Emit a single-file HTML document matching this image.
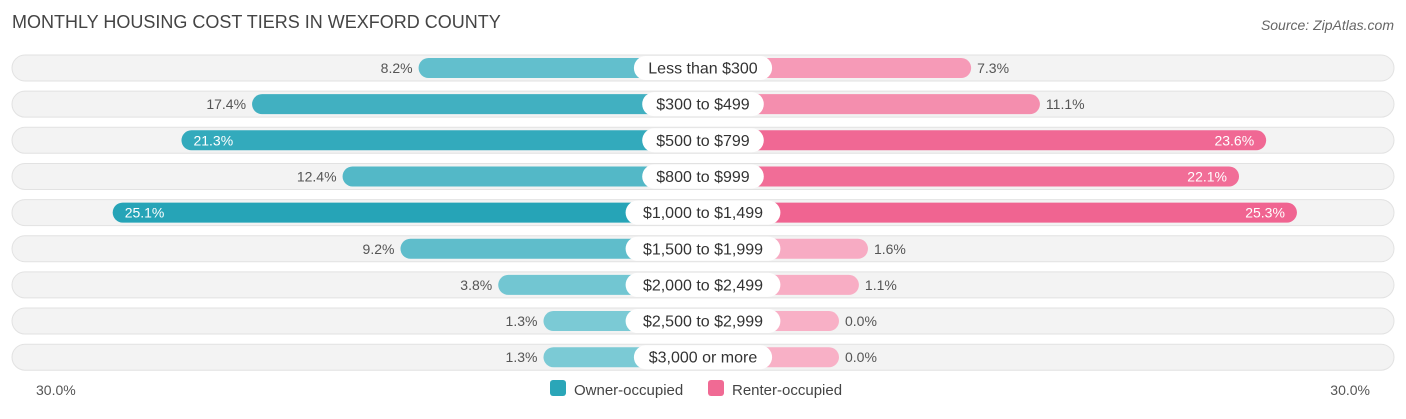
<!DOCTYPE html>
<html><head><meta charset="utf-8"><style>
body{margin:0;width:1406px;height:414px;background:#fff;font-family:"Liberation Sans",sans-serif;overflow:hidden}
svg text{font-family:"Liberation Sans",sans-serif}
</style></head><body>
<svg id="c" width="1406" height="414">
<text x="12" y="28" font-size="18" fill="#444">MONTHLY HOUSING COST TIERS IN WEXFORD COUNTY</text>
<text x="1394" y="30" font-size="14" fill="#666" font-style="italic" text-anchor="end">Source: ZipAtlas.com</text>
<g id="rows"></g>
<text x="36" y="395" font-size="14" fill="#555">30.0%</text>
<text x="1370" y="395" font-size="14" fill="#555" text-anchor="end">30.0%</text>
<g><rect x="550" y="380" width="16" height="16" rx="3" fill="#2aa6b8"/><text x="574" y="395" font-size="15" fill="#444">Owner-occupied</text></g>
<g><rect x="708" y="380" width="16" height="16" rx="3" fill="#f06a94"/><text x="732" y="395" font-size="15" fill="#444">Renter-occupied</text></g>
</svg>
<script>
const categories=["Less than $300","$300 to $499","$500 to $799","$800 to $999","$1,000 to $1,499","$1,500 to $1,999","$2,000 to $2,499","$2,500 to $2,999","$3,000 or more"];
const ownerValues=[8.2,17.4,21.3,12.4,25.1,9.2,3.8,1.3,1.3];
const renterValues=[7.3,11.1,23.6,22.1,25.3,1.6,1.1,0.0,0.0];
const NS="http://www.w3.org/2000/svg";
const cx=703,off=136,scale=18.1,y0=68,dy=36.15,bh=20;
const g=document.getElementById('rows');
function mk(t,a){const e=document.createElementNS(NS,t);for(const k in a)e.setAttribute(k,a[k]);return e;}
function mix(a,b,t){return 'rgb('+a.map((v,i)=>Math.round(v+(b[i]-v)*t)).join(',')+')';}
const oL=[128,204,215],oD=[38,164,183],rL=[248,176,198],rD=[240,100,145];
categories.forEach((cat,i)=>{
 const y=y0+i*dy;
 const bg=mk('rect',{x:12,y:y-13,width:1382,height:26,rx:13,fill:'#f3f3f3',stroke:'#e2e2e2','stroke-width':1});
 
 
 g.appendChild(bg);
 const ov=ownerValues[i],rv=renterValues[i];
 const ow=off+ov*scale, rw=off+rv*scale;
 const ob=mk('rect',{x:cx-ow,y:y-bh/2,width:ow,height:bh,rx:10,fill:mix(oL,oD,Math.min(1,ov/25))});
 
 
 g.appendChild(ob);
 const rb=mk('rect',{x:cx,y:y-bh/2,width:rw,height:bh,rx:10,fill:mix(rL,rD,Math.min(1,rv/25))});
 
 
 g.appendChild(rb);
 const lw=cat.length*8.3+22;
 const lb=mk('rect',{x:cx-lw/2,y:y-12,width:lw,height:24,rx:12,fill:'#fff'});
 
 
 g.appendChild(lb);
 const lt=mk('text',{x:cx,y:y+5.5,'font-size':16,fill:'#333','text-anchor':'middle'});
 lt.textContent=cat;
 
 
 g.appendChild(lt);
 const oin=ov>20;
 const ot=mk('text',{x:oin?cx-ow+12:cx-ow-6,y:y+5,'font-size':14,fill:oin?'#fff':'#555','text-anchor':oin?'start':'end'});
 ot.textContent=ov.toFixed(1)+'%';
 
 
 g.appendChild(ot);
 const rin=rv>20;
 const rt=mk('text',{x:rin?cx+rw-12:cx+rw+6,y:y+5,'font-size':14,fill:rin?'#fff':'#555','text-anchor':rin?'end':'start'});
 rt.textContent=rv.toFixed(1)+'%';
 
 
 g.appendChild(rt);
});
</script>
</body></html>
